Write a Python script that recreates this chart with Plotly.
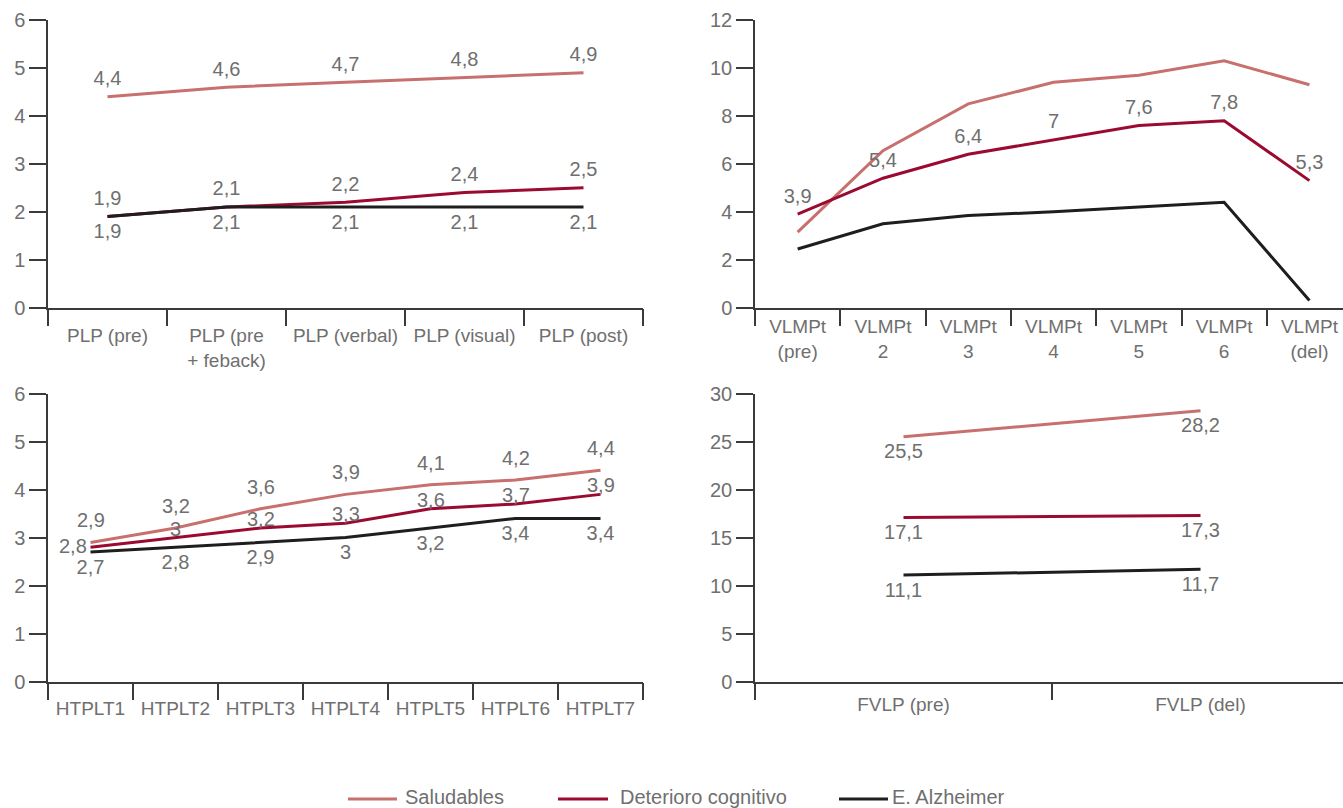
import plotly.graph_objects as go

# ---- data ----
series_names = ["Saludables", "Deterioro cognitivo", "E. Alzheimer"]
series_colors = ["#c7706d", "#9b0a30", "#1e1e1e"]

plp_cats = ["PLP (pre)", "PLP (pre<br>+ feback)", "PLP (verbal)", "PLP (visual)", "PLP (post)"]
plp_saludables = [4.4, 4.6, 4.7, 4.8, 4.9]
plp_deterioro = [1.9, 2.1, 2.2, 2.4, 2.5]
plp_alzheimer = [1.9, 2.1, 2.1, 2.1, 2.1]

vlmpt_cats = ["VLMPt<br>(pre)", "VLMPt<br>2", "VLMPt<br>3", "VLMPt<br>4", "VLMPt<br>5", "VLMPt<br>6", "VLMPt<br>(del)"]
vlmpt_saludables = [3.15, 6.55, 8.5, 9.4, 9.7, 10.3, 9.3]
vlmpt_deterioro = [3.9, 5.4, 6.4, 7, 7.6, 7.8, 5.3]
vlmpt_alzheimer = [2.45, 3.5, 3.85, 4.0, 4.2, 4.4, 0.3]

htplt_cats = ["HTPLT1", "HTPLT2", "HTPLT3", "HTPLT4", "HTPLT5", "HTPLT6", "HTPLT7"]
htplt_saludables = [2.9, 3.2, 3.6, 3.9, 4.1, 4.2, 4.4]
htplt_deterioro = [2.8, 3, 3.2, 3.3, 3.6, 3.7, 3.9]
htplt_alzheimer = [2.7, 2.8, 2.9, 3, 3.2, 3.4, 3.4]

fvlp_cats = ["FVLP (pre)", "FVLP (del)"]
fvlp_saludables = [25.5, 28.2]
fvlp_deterioro = [17.1, 17.3]
fvlp_alzheimer = [11.1, 11.7]

# ---- style ----
FONT = "Liberation Sans, Arial, sans-serif"
TEXT_GRAY = "#6f6f6f"
AXIS_COLOR = "#3a3a3a"
W, H = 1343, 808

fig = go.Figure()
annotations = []


def fmt(v):
    return ("%g" % v).replace(".", ",")


def axis_ids(n):
    return ("x", "y") if n == 1 else (f"x{n}", f"y{n}")


def add_panel(n, cats, values, labelled, positions, xdom, ydom,
              yrange, dtick, xrange, standoff):
    xa, ya = axis_ids(n)
    for i, vals in enumerate(values):
        show_text = labelled[i] is True
        fig.add_trace(go.Scatter(
            x=cats, y=vals, xaxis=xa, yaxis=ya,
            mode="lines+markers+text" if show_text else "lines",
            line=dict(color=series_colors[i], width=3),
            marker=dict(size=9, color="rgba(0,0,0,0)"),
            text=[fmt(v) for v in vals] if show_text else None,
            textposition=positions[i] if show_text else None,
            textfont=dict(family=FONT, size=20, color=TEXT_GRAY),
            name=series_names[i], showlegend=False, cliponaxis=False,
            hoverinfo="skip",
        ))
    xkey = "xaxis" if n == 1 else f"xaxis{n}"
    ykey = "yaxis" if n == 1 else f"yaxis{n}"
    fig.update_layout(**{
        xkey: dict(
            domain=xdom, anchor=ya, type="category", categoryorder="array",
            categoryarray=cats, range=xrange, showline=True, linecolor=AXIS_COLOR,
            linewidth=1.5, ticks="outside", tickson="boundaries", ticklen=17,
            tickcolor=AXIS_COLOR, tickwidth=1.5, showgrid=False, zeroline=False,
            tickfont=dict(family=FONT, size=19, color=TEXT_GRAY), automargin=False,
            ticklabelstandoff=standoff, fixedrange=True,
        ),
        ykey: dict(
            domain=ydom, anchor=xa, range=yrange, dtick=dtick, tick0=0,
            showline=True, linecolor=AXIS_COLOR, linewidth=1.5, ticks="outside",
            ticklen=17, tickcolor=AXIS_COLOR, tickwidth=1.5, showgrid=False,
            zeroline=False, tickfont=dict(family=FONT, size=20, color=TEXT_GRAY),
            automargin=False, fixedrange=True,
        ),
    })


def add_value_labels(n, cats, vals, yshift, first_shift=None):
    """Value labels placed a fixed number of pixels above each point."""
    xa, ya = axis_ids(n)
    for j, (c, v) in enumerate(zip(cats, vals)):
        xs, ys = (0, yshift) if (j > 0 or first_shift is None) else first_shift
        annotations.append(dict(
            xref=xa, yref=ya, x=c, y=v, text=fmt(v), showarrow=False,
            xanchor="center", yanchor="middle", xshift=xs, yshift=ys,
            borderpad=0, font=dict(family=FONT, size=20, color=TEXT_GRAY)))


def px_x(p):
    return p / W


def px_y(p):
    return 1 - p / H


top_dom = [px_y(307.7), px_y(20)]
bot_dom = [px_y(681.7), px_y(393.5)]
left_dom = [px_x(48), px_x(643)]
right_dom = [px_x(755), 1.0]

add_panel(1, plp_cats, [plp_saludables, plp_deterioro, plp_alzheimer],
          [True, True, True],
          ["top center", "top center", "bottom center"],
          left_dom, top_dom, [0, 6], 1, [-0.5, 4.5], 10)

add_panel(2, vlmpt_cats, [vlmpt_saludables, vlmpt_deterioro, vlmpt_alzheimer],
          [False, True, False],
          [None, "top center", None],
          right_dom, top_dom, [0, 12], 2, [-0.5, (W - 755) / 85.3 - 0.5], 1)

add_panel(3, htplt_cats, [htplt_saludables, htplt_deterioro, htplt_alzheimer],
          ["annot", "annot", True],
          [None, None, "bottom center"],
          left_dom, bot_dom, [0, 6], 1, [-0.5, 6.5], 9)
add_value_labels(3, htplt_cats, htplt_saludables, 22)
add_value_labels(3, htplt_cats, htplt_deterioro, 9, first_shift=(-18, 1))

add_panel(4, fvlp_cats, [fvlp_saludables, fvlp_deterioro, fvlp_alzheimer],
          [True, True, True],
          ["bottom center", "bottom center", "bottom center"],
          right_dom, bot_dom, [0, 30], 5, [-0.5, (W - 755) / 297 - 0.5], 5)

# ---- legend drawn along the bottom ----
legend_items = [(348, 397, 403), (558, 608, 618), (839, 888, 890)]
shapes = []
for (x0, x1, xt), name, color in zip(legend_items, series_names, series_colors):
    shapes.append(dict(type="line", xref="paper", yref="paper",
                       x0=px_x(x0), x1=px_x(x1), y0=px_y(799), y1=px_y(799),
                       line=dict(color=color, width=3)))
    annotations.append(dict(xref="paper", yref="paper", x=px_x(xt), y=px_y(797),
                            xanchor="left", yanchor="middle", showarrow=False,
                            text=name, font=dict(family=FONT, size=20, color=TEXT_GRAY)))

fig.update_layout(
    width=W, height=H,
    margin=dict(l=0, r=0, t=0, b=0),
    paper_bgcolor="white", plot_bgcolor="white",
    showlegend=False,
    shapes=shapes, annotations=annotations,
    font=dict(family=FONT, color=TEXT_GRAY),
)

fig.write_html("out.html")
